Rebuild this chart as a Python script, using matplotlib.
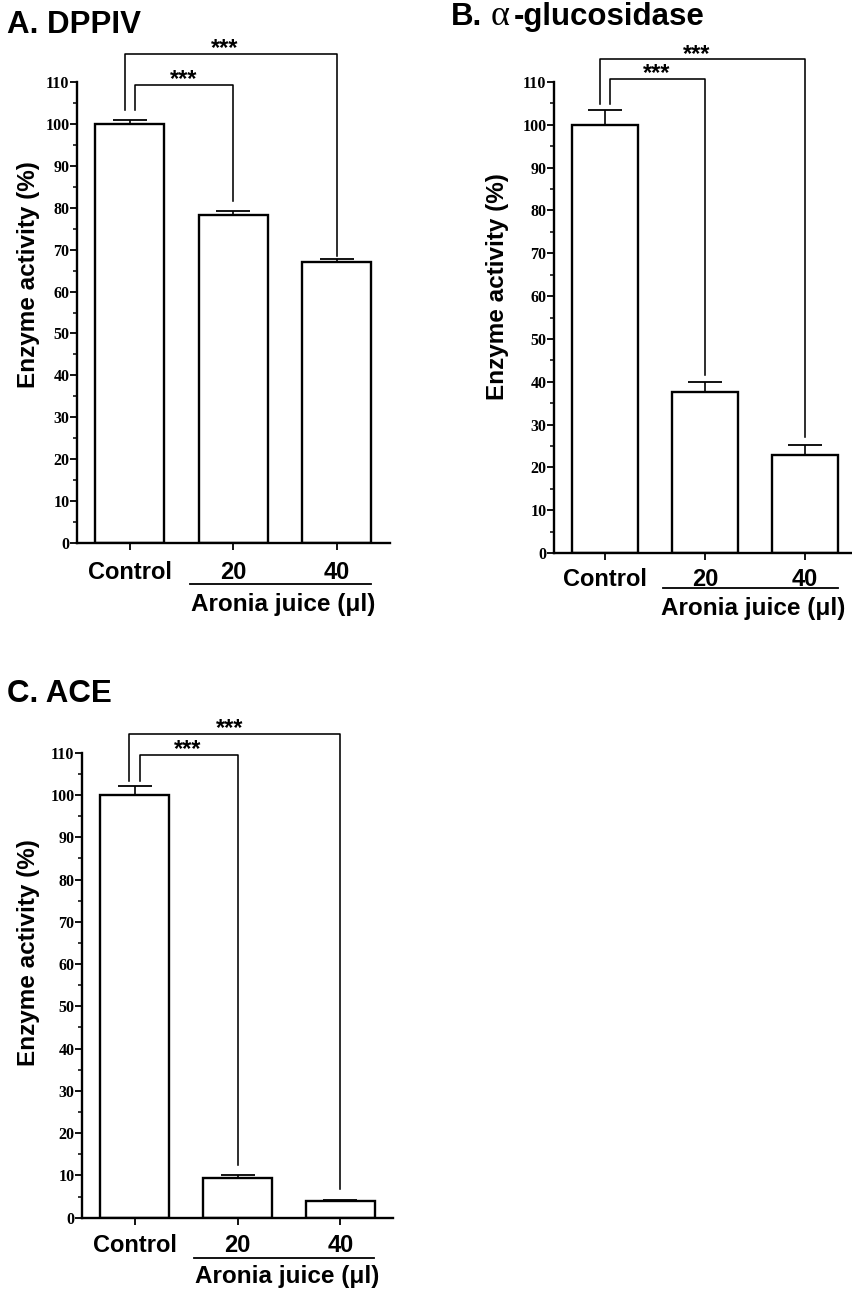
import matplotlib
matplotlib.use("Agg")
import matplotlib.pyplot as plt
import matplotlib.transforms as mtransforms

# data
groups = ["Control", "20", "40"]
dppiv = [100.0, 78.2, 67.0]
dppiv_err = [0.9, 0.9, 0.8]
agluc = [100.0, 37.5, 23.0]
agluc_err = [3.5, 2.5, 2.2]
ace = [100.0, 9.3, 4.0]
ace_err = [2.1, 0.8, 0.3]

# bracket levels (inner, outer) for each panel
dppiv_brackets = [109.3, 116.7]
agluc_brackets = [110.7, 115.3]
ace_brackets = [109.5, 114.4]
star_x = [0.52, 0.92]
yticks = list(range(0, 111, 10))

W, H = 852, 1291
fig = plt.figure(figsize=(W / 100, H / 100), dpi=100)

SANS = "Liberation Sans"
SERIF = "Liberation Serif"


def px(x, y):
    return x / W, 1 - y / H


def panel(rect, vals, errs, levels, gaps, below):
    ax = fig.add_axes(rect)
    x = list(range(len(vals)))
    ax.bar(x, vals, width=0.665, color="white", edgecolor="black", linewidth=1.7, zorder=2)
    ax.errorbar(x, vals, yerr=[[0] * len(errs), errs], fmt="none", ecolor="black",
                elinewidth=1.2, capsize=12.5, capthick=1.3, zorder=3)
    ax.set_xlim(-0.51, 2.51)
    ax.set_ylim(0, 110)
    ax.set_yticks(yticks)
    ax.set_yticks(range(5, 110, 10), minor=True)
    ax.set_yticklabels([str(t) for t in yticks], fontfamily=SERIF, fontweight="bold", fontsize=11.5)
    ax.set_xticks(x)
    ax.set_xticklabels(groups, fontfamily=SANS, fontweight="bold", fontsize=17)
    ax.tick_params(axis="y", which="major", length=5, width=1.3, pad=0.5, direction="out")
    ax.tick_params(axis="y", which="minor", length=3, width=1.1, direction="out")
    ax.tick_params(axis="x", length=5, width=1.3, pad=below[0])
    for s in ["top", "right"]:
        ax.spines[s].set_visible(False)
    for s in ["left", "bottom"]:
        ax.spines[s].set_linewidth(1.7)

    # significance brackets: control vs 20, control vs 40
    for k, (j, lev) in enumerate(zip([1, 2], levels)):
        xl = -0.05 if k == 1 else 0.05
        yl = vals[0] + errs[0] + gaps[0]
        yr = vals[j] + errs[j] + gaps[k + 1]
        ax.plot([xl, xl, j, j], [yl, lev, lev, yr], color="black", lw=1.15,
                clip_on=False, zorder=4)
        ax.text(star_x[k], lev - 0.3, "***", ha="center", va="baseline",
                fontfamily=SANS, fontweight="bold", fontsize=17)

    # group line + label under the juice doses
    tr_line = mtransforms.offset_copy(ax.get_xaxis_transform(), fig=fig, y=-below[1], units="dots")
    ax.plot([0.58, 2.33], [0, 0], color="black", lw=1.3, transform=tr_line, clip_on=False)
    tr_lab = mtransforms.offset_copy(ax.get_xaxis_transform(), fig=fig, y=-below[2], units="dots")
    ax.text(1.48, 0, "Aronia juice (\u03bcl)", ha="center", va="center", transform=tr_lab,
            fontfamily=SANS, fontweight="bold", fontsize=17.5)
    return ax


# A. DPPIV
axA = panel([77 / W, 1 - 543 / H, 312.6 / W, 461 / H], dppiv, dppiv_err,
            dppiv_brackets, [2.3, 2.6, 0.7], (8, 41, 62))
# B. alpha-glucosidase
axB = panel([554 / W, 1 - 553 / H, 302 / W, 471 / H], agluc, agluc_err,
            agluc_brackets, [1.4, 1.6, 1.9], (6, 35, 56))
# C. ACE
axC = panel([82 / W, 1 - 1217.7 / H, 311 / W, 465 / H], ace, ace_err,
            ace_brackets, [1.2, 2.4, 2.4], (7, 40, 59))

# panel titles
fig.text(*px(7, 33), "A. DPPIV", fontfamily=SANS, fontweight="bold", fontsize=22.5, va="baseline")
fig.text(*px(451, 25), "B.", fontfamily=SANS, fontweight="bold", fontsize=22.5, va="baseline")
fig.text(*px(491, 25), "\u03b1", fontfamily=SERIF, fontsize=26, va="baseline")
fig.text(*px(514, 25), "-glucosidase", fontfamily=SANS, fontweight="bold", fontsize=22.5, va="baseline")
fig.text(*px(7, 702), "C. ACE", fontfamily=SANS, fontweight="bold", fontsize=22.5, va="baseline")

# y-axis labels
for xc, yc in [(29, 275), (497, 287), (29, 953)]:
    fig.text(*px(xc, yc), "Enzyme activity (%)", rotation=90, ha="center", va="center",
             fontfamily=SANS, fontweight="bold", fontsize=17.5)

fig.savefig("out.png", dpi=100, facecolor="white")
